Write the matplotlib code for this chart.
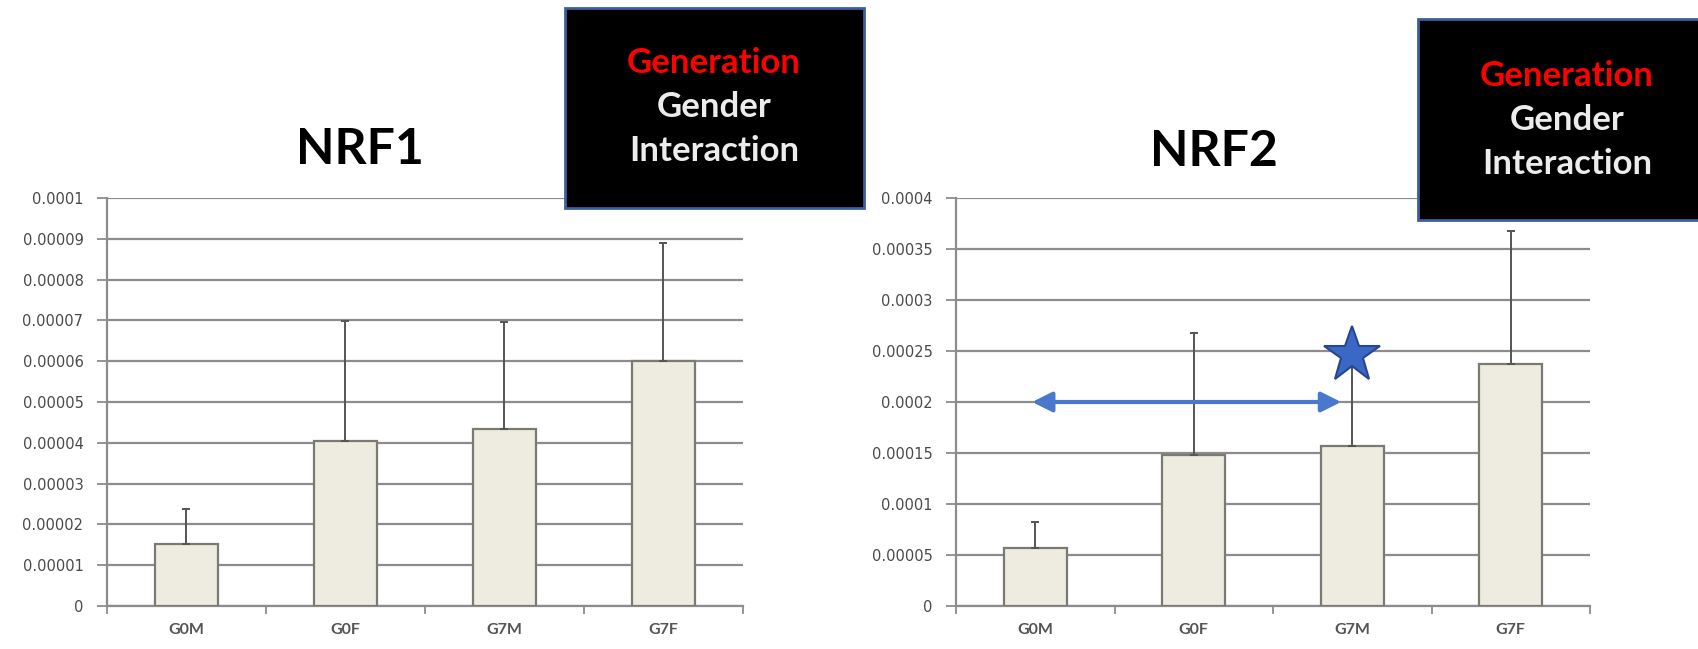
import matplotlib
matplotlib.use('Agg')
import matplotlib.pyplot as plt
import matplotlib.patches as mpatches
import numpy as np

plt.rcParams['font.family'] = ['Lato', 'DejaVu Sans']

groups = ['G0M', 'G0F', 'G7M', 'G7F']

nrf1_mean = [0.0000152, 0.0000405, 0.0000435, 0.0000600]
nrf1_upper = [0.0000238, 0.0000698, 0.0000695, 0.0000890]

nrf2_mean = [0.000057, 0.000148, 0.000157, 0.000237]
nrf2_upper = [0.000082, 0.000268, 0.000250, 0.000368]

W, H = 1699, 649
fig = plt.figure(figsize=(W / 100, H / 100), dpi=100)
fig.patch.set_facecolor('white')

GRID = '#8c8c8c'
BAR_FACE = '#eeece1'
BAR_EDGE = '#7a7a72'


def px_axes(x0, y0, x1, y1):
    # pixel box (top-left origin) -> figure fraction
    return fig.add_axes([x0 / W, 1 - y1 / H, (x1 - x0) / W, (y1 - y0) / H])


def bar_panel(ax, means, upper, ymax, step, fmt):
    x = np.arange(len(groups))
    err = np.array(upper) - np.array(means)
    ax.bar(x, means, width=0.4, color=BAR_FACE, edgecolor=BAR_EDGE,
           linewidth=1.6, zorder=3)
    ax.errorbar(x, means, yerr=[np.zeros_like(err), err], fmt='none',
                ecolor='#555555', elinewidth=1.4, capsize=3, capthick=1.4,
                zorder=4)
    ax.set_xlim(-0.5, len(groups) - 0.5)
    ax.set_ylim(0, ymax)
    ticks = np.arange(0, ymax + step / 2, step)
    ax.set_yticks(ticks)
    ax.set_yticklabels([fmt(t) for t in ticks], fontsize=10.5, color='#4a4a4a',
                       family=['DejaVu Sans'])
    ax.set_xticks(x)
    ax.set_xticklabels(groups, fontsize=11.5, color='#555555', fontweight='bold')
    ax.set_xticks(np.arange(-0.5, len(groups)), minor=True)
    ax.tick_params(axis='x', which='major', length=0, pad=12)
    ax.tick_params(axis='x', which='minor', length=6, color=GRID, width=1.3,
                   direction='out')
    ax.tick_params(axis='y', length=7, color=GRID, width=1.3, pad=10)
    ax.yaxis.grid(True, color=GRID, linewidth=1.6, zorder=0)
    ax.set_axisbelow(True)
    for s in ['top', 'right']:
        ax.spines[s].set_visible(False)
    for s in ['left', 'bottom']:
        ax.spines[s].set_color(GRID)
        ax.spines[s].set_linewidth(1.6)


def fmt1(v):
    return '0' if v == 0 else f'{v:.5f}'.rstrip('0')


ax1 = px_axes(107, 198, 743, 606)
bar_panel(ax1, nrf1_mean, nrf1_upper, 0.0001, 0.00001, fmt1)

ax2 = px_axes(956, 198, 1590, 606)
bar_panel(ax2, nrf2_mean, nrf2_upper, 0.0004, 0.00005, fmt1)

# G0M vs G7M comparison arrow and significance star
ax2.annotate('', xy=(1.93, 0.0002), xytext=(-0.02, 0.0002),
             arrowprops=dict(arrowstyle='<|-|>', color='#4a78cc', lw=3,
                             mutation_scale=30, shrinkA=0, shrinkB=0),
             zorder=6)
ax2.plot([2], [0.000246], marker='*', markersize=42, color='#3a68c4',
         markeredgecolor='#27468f', markeredgewidth=1.5, zorder=7,
         clip_on=False)

# panel titles
fig.text(360 / W, 1 - 150 / H, 'NRF1', fontsize=36, fontweight='bold',
         ha='center', va='center')
fig.text(1214 / W, 1 - 152 / H, 'NRF2', fontsize=36, fontweight='bold',
         ha='center', va='center')


def effect_box(x0, y0, x1, y1, cx, cy):
    box = mpatches.Rectangle((x0 / W, 1 - y1 / H), (x1 - x0) / W, (y1 - y0) / H,
                             transform=fig.transFigure, facecolor='black',
                             edgecolor='#3d5f9e', linewidth=2, zorder=10)
    fig.patches.append(box)
    for i, (txt, col) in enumerate([('Generation', '#ff0000'),
                                    ('Gender', '#ececec'),
                                    ('Interaction', '#ececec')]):
        fig.text(cx / W, 1 - (cy + i * 44) / H, txt, fontsize=25,
                 fontweight='bold', color=col, ha='center', va='center',
                 zorder=11)


effect_box(565, 8, 864, 208, 714, 63)
effect_box(1418, 19, 1710, 220, 1567, 76)

fig.savefig('out.png', dpi=100)
